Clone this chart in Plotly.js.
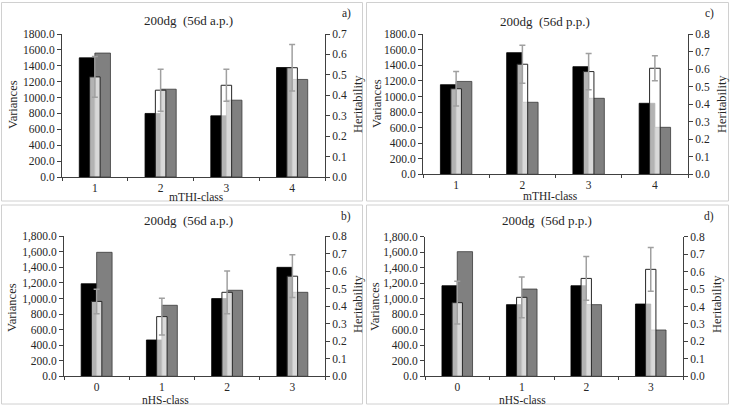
<!DOCTYPE html>
<html>
<head>
<meta charset="utf-8">
<script src="https://cdn.plot.ly/plotly-3.0.1.min.js"></script>
<style>html,body{margin:0;padding:0;background:#fff;}#chart{width:730px;height:408px;}</style>
</head>
<body>
<div id="chart"></div>
<script>
// ---- data ----
var classesTHI = ["1", "2", "3", "4"];
var classesHS = ["0", "1", "2", "3"];

// panel a: mTHI-class, 56d a.p.
var aBlack = [1500, 800, 770, 1378];
var aDark  = [1560, 1105, 967, 1228];
var aHerit = [0.490, 0.425, 0.449, 0.535];
var aErr   = [0.100, 0.103, 0.078, 0.114];

// panel c: mTHI-class, 56d p.p.
var cBlack = [1152, 1564, 1384, 913];
var cDark  = [1194, 926, 977, 604];
var cHerit = [0.489, 0.629, 0.587, 0.606];
var cErr   = [0.099, 0.108, 0.104, 0.071];

// panel b: nHS-class, 56d a.p.
var bBlack = [1190, 467, 999, 1401];
var bDark  = [1594, 913, 1106, 1080];
var bHerit = [0.428, 0.341, 0.480, 0.572];
var bErr   = [0.070, 0.105, 0.122, 0.122];

// panel d: nHS-class, 56d p.p.
var dBlack = [1168, 924, 1168, 932];
var dDark  = [1607, 1125, 924, 597];
var dHerit = [0.422, 0.4525, 0.561, 0.613];
var dErr   = [0.122, 0.117, 0.125, 0.125];

var titleA = "200dg\u00a0 (56d a.p.)";
var titleP = "200dg\u00a0 (56d p.p.)";

// ---- layout helpers ----
var W = 730, H = 408;
var FONT = "'Liberation Serif', 'Times New Roman', Times, serif";
function px(x) { return x / W; }
function py(y) { return 1 - y / H; }

var traces = [];
var layout = {
  width: W, height: H,
  margin: {l: 0, r: 0, t: 0, b: 0},
  paper_bgcolor: "#fff", plot_bgcolor: "#fff",
  showlegend: false,
  barmode: "overlay",
  font: {family: FONT, size: 11, color: "#404040"},
  annotations: [], shapes: []
};

function ann(text, x, y, size, angle) {
  layout.annotations.push({
    text: text, xref: "paper", yref: "paper", x: px(x), y: py(y),
    xanchor: "center", yanchor: "middle", showarrow: false,
    textangle: angle || 0,
    font: {family: FONT, size: size, color: "#262626"}
  });
}

var BW = 0.237, HW = 0.16;

function panel(idx, cats, black, dark, herit, err, hmax, fmt, box, plot, title, titlePos, letter, letterPos, xtitle, xtPos, varPos, herPos) {
  var xa = idx === 1 ? "x" : "x" + idx;
  var ya = "y" + (idx === 1 ? "" : (2 * idx - 1));
  var yb = "y" + (2 * idx);
  var xk = idx === 1 ? "xaxis" : "xaxis" + idx;
  var yk = idx === 1 ? "yaxis" : "yaxis" + (2 * idx - 1);
  var yk2 = "yaxis" + (2 * idx);

  traces.push({type: "bar", x: cats, y: black, xaxis: xa, yaxis: ya,
    offset: -BW, width: BW, marker: {color: "#000", line: {color: "#000", width: 0.8}}, hoverinfo: "skip"});
  traces.push({type: "bar", x: cats, y: dark, xaxis: xa, yaxis: ya,
    offset: 0, width: BW, marker: {color: "#808080", line: {color: "#3a3a3a", width: 0.8}}, hoverinfo: "skip"});
  traces.push({type: "bar", x: cats, y: herit, xaxis: xa, yaxis: yb,
    offset: -HW / 2, width: HW,
    marker: {color: "rgba(255,255,255,0.7)", line: {color: "#262626", width: 1}},
    error_y: {type: "data", array: err, visible: true, color: "#a0a0a0", thickness: 1.5, width: 3},
    hoverinfo: "skip"});

  var tf = {family: FONT, size: 11.5, color: "#262626"};
  layout[xk] = {
    domain: [px(plot[0]), px(plot[1])], anchor: ya, type: "category",
    range: [-0.5, 3.5], fixedrange: true,
    showline: true, linecolor: "#404040", linewidth: 1,
    ticks: "outside", tickson: "boundaries", ticklen: 3, tickcolor: "#404040",
    showgrid: false, zeroline: false, tickfont: tf
  };
  layout[yk] = {
    domain: [py(plot[3]), py(plot[2])], anchor: xa, range: [0, 1800], dtick: 200,
    tickformat: fmt, showline: true, linecolor: "#404040", linewidth: 1,
    ticks: "outside", ticklen: 4, tickcolor: "#404040",
    showgrid: false, zeroline: false, fixedrange: true, tickfont: tf
  };
  layout[yk2] = {
    overlaying: ya, side: "right", anchor: xa, range: [0, hmax], dtick: 0.1,
    tickformat: ".1f", showline: true, linecolor: "#404040", linewidth: 1,
    ticks: "outside", ticklen: 4, tickcolor: "#404040",
    showgrid: false, zeroline: false, fixedrange: true, tickfont: tf
  };

  layout.shapes.push({type: "rect", xref: "paper", yref: "paper",
    x0: px(box[0]), x1: px(box[1]), y0: py(box[3]), y1: py(box[2]),
    line: {color: "#d0d0d0", width: 1}, fillcolor: "rgba(0,0,0,0)", layer: "below"});

  ann(title, titlePos[0], titlePos[1], 13, 0);
  ann(letter, letterPos[0], letterPos[1], 11.5, 0);
  ann(xtitle, xtPos[0], xtPos[1], 11.5, 0);
  ann("Variances", varPos[0], varPos[1], 12.5, -90);
  ann("Heritability", herPos[0], herPos[1], 12.5, -90);
}

panel(1, classesTHI, aBlack, aDark, aHerit, aErr, 0.7, ".1f",
  [1.5, 362.5, 2.5, 201], [62, 325, 34, 177],
  titleA, [188, 20], "a)", [346, 14], "mTHI-class", [196, 196.5], [13, 105], [358, 104]);
panel(2, classesTHI, cBlack, cDark, cHerit, cErr, 0.8, ".1f",
  [366.5, 728.5, 2.5, 201], [423, 688, 34.3, 174.3],
  titleP, [545, 21], "c)", [709, 14], "mTHI-class", [550, 196], [377, 104], [722, 104]);
panel(3, classesHS, bBlack, bDark, bHerit, bErr, 0.8, ",.1f",
  [1.5, 362.5, 205, 404], [64, 325, 236.3, 376.3],
  titleA, [188, 221], "b)", [346, 216], "nHS-class", [165, 399.5], [12, 307], [358, 304]);
panel(4, classesHS, dBlack, dDark, dHerit, dErr, 0.8, ",.1f",
  [366.5, 728.5, 205, 404], [425, 683, 236.7, 376.3],
  titleP, [547, 221], "d)", [709, 216], "nHS-class", [522, 399.5], [375, 307], [717, 304]);

Plotly.newPlot("chart", traces, layout, {staticPlot: true, displayModeBar: false});
</script>
</body>
</html>
